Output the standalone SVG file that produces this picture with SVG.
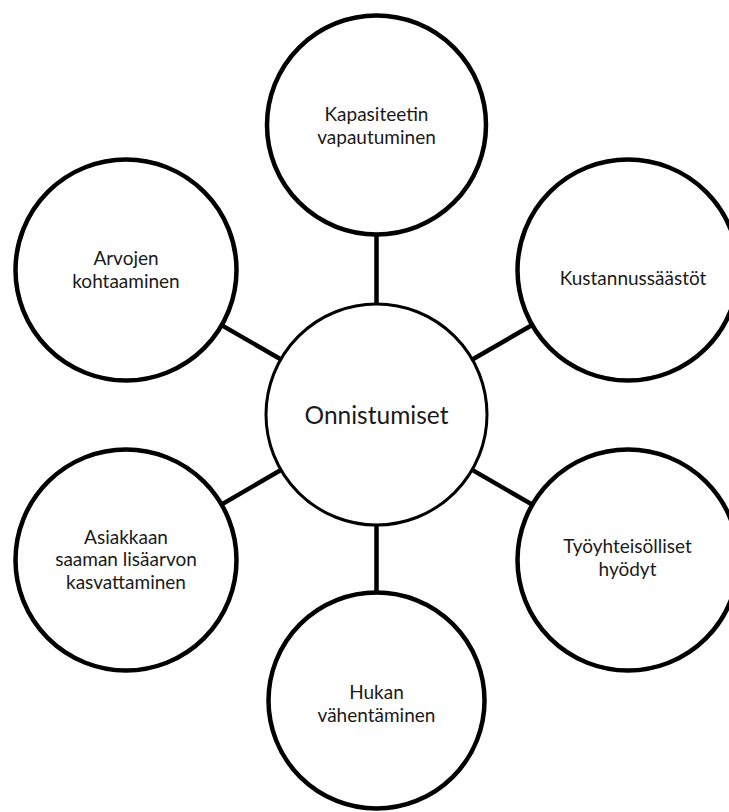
<svg xmlns="http://www.w3.org/2000/svg" width="729" height="812" viewBox="0 0 729 812">
  <style>
    .node { fill: #ffffff; stroke: #000000; stroke-width: 4.5; }
    .hub { fill: #ffffff; stroke: #000000; stroke-width: 3; }
    .conn { stroke: #000000; stroke-width: 4.5; fill: none; }
    text { font-family: Lato, "Liberation Sans", sans-serif; fill: #1a1a1a; text-anchor: middle; }
    .lbl { font-size: 19px; }
    .hubtxt { font-size: 24.5px; }
  </style>
  <rect width="729" height="812" fill="#ffffff"/>
  <g id="connectors">
    <line class="conn" x1="376.5" y1="414.5" x2="376.5" y2="125"/>
    <line class="conn" x1="376.5" y1="414.5" x2="628" y2="270"/>
    <line class="conn" x1="376.5" y1="414.5" x2="628" y2="560"/>
    <line class="conn" x1="376.5" y1="414.5" x2="376.5" y2="701"/>
    <line class="conn" x1="376.5" y1="414.5" x2="126" y2="560"/>
    <line class="conn" x1="376.5" y1="414.5" x2="126" y2="270"/>
  </g>
  <g id="hub">
    <circle class="hub" cx="376.5" cy="414.5" r="110.5"/>
    <text class="hubtxt" x="376.5" y="424">Onnistumiset</text>
  </g>
  <g id="node-kapasiteetti">
    <circle class="node" cx="376.5" cy="125" r="109.5"/>
    <text class="lbl" x="376.5" y="121">Kapasiteetin</text>
    <text class="lbl" x="376.5" y="143.5">vapautuminen</text>
  </g>
  <g id="node-kustannus">
    <circle class="node" cx="628" cy="270" r="110.5"/>
    <text class="lbl" x="633" y="285">Kustannussäästöt</text>
  </g>
  <g id="node-tyoyhteiso">
    <circle class="node" cx="628" cy="560" r="110.5"/>
    <text class="lbl" x="627.5" y="553">Työyhteisölliset</text>
    <text class="lbl" x="627.5" y="575.5">hyödyt</text>
  </g>
  <g id="node-hukka">
    <circle class="node" cx="376.5" cy="700.5" r="108"/>
    <text class="lbl" x="376.5" y="699">Hukan</text>
    <text class="lbl" x="376.5" y="721.5">vähentäminen</text>
  </g>
  <g id="node-asiakas">
    <circle class="node" cx="126" cy="560" r="110.5"/>
    <text class="lbl" x="126" y="543.5">Asiakkaan</text>
    <text class="lbl" x="126" y="566">saaman lisäarvon</text>
    <text class="lbl" x="126" y="588.5">kasvattaminen</text>
  </g>
  <g id="node-arvot">
    <circle class="node" cx="126" cy="270" r="110.5"/>
    <text class="lbl" x="126" y="265">Arvojen</text>
    <text class="lbl" x="126" y="287.5">kohtaaminen</text>
  </g>
</svg>
